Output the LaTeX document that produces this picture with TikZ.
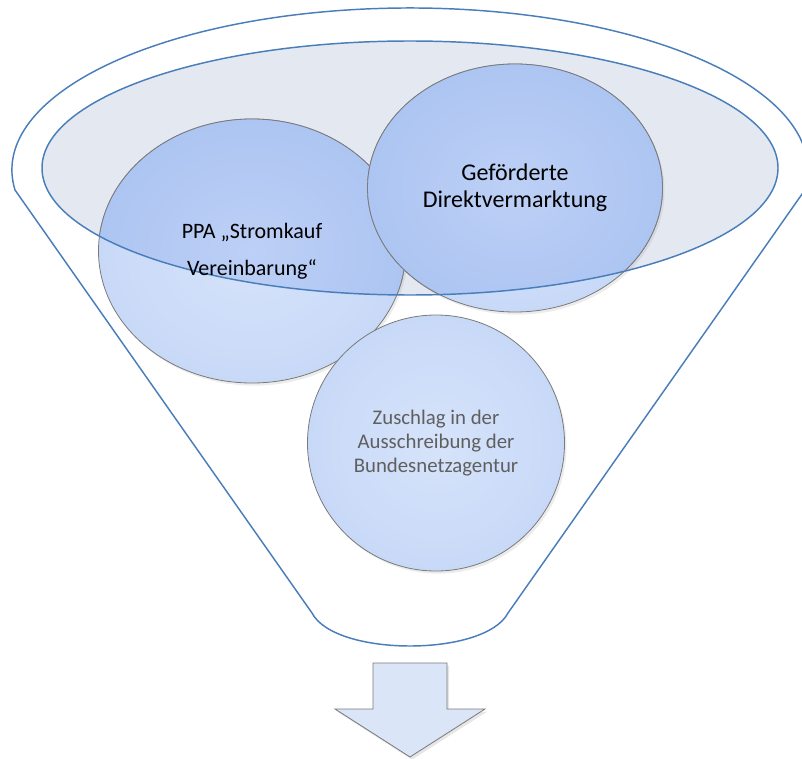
\documentclass[tikz,border=0pt]{standalone}
\usepackage{fontspec}
\setmainfont{Carlito}
\usetikzlibrary{shapes.geometric,shadows}
\definecolor{funnelblue}{HTML}{4A7EBB}
\definecolor{rimfill}{HTML}{E4E8F1}
\definecolor{bubout}{HTML}{D6E3FA}
\definecolor{bubedge}{HTML}{C8D9F8}
\definecolor{bubin}{HTML}{BDD0F6}
\definecolor{bubinedge}{HTML}{ADC5F2}
\definecolor{bubline}{HTML}{7A7A7A}
\definecolor{graytext}{HTML}{5F5F5F}
\definecolor{arrowfill}{HTML}{DAE5F8}
\tikzset{
  funnel/.style={draw=funnelblue, line width=1.1pt},
  bub/.style={ellipse, draw=bubline, line width=0.6pt, inner sep=0pt,
    inner color=bubout, outer color=bubedge,
    drop shadow={opacity=0.15, shadow xshift=1.5pt, shadow yshift=-2pt}},
  bubdark/.style={draw=bubline, line width=0.6pt, inner color=bubin, outer color=bubinedge},
  lbl/.style={align=center, inner sep=0pt},
}
\begin{document}
\begin{tikzpicture}[x=0.75pt, y=-0.75pt]
\useasboundingbox (0,0) rectangle (802,759);
% outer funnel
\draw[funnel] (15,190) arc[start angle=172.9, end angle=367.1, x radius=398, y radius=162]
  -- (508,613) .. controls (485,657) and (335,657) .. (312,613) -- cycle;
% rim
\coordinate (E) at (410,168);
\fill[rimfill] (E) ellipse [x radius=368, y radius=127];
% left bubble
\node[bub, minimum width=230.25pt, minimum height=198pt] (L) at (252,251) {};
\begin{scope}
  \clip (E) ellipse [x radius=368, y radius=127];
  \path[bubdark] (L.center) ellipse [x radius=153.5, y radius=132];
\end{scope}
% right bubble
\node[bub, minimum width=221.25pt, minimum height=186pt] (R) at (515,188) {};
\begin{scope}
  \clip (E) ellipse [x radius=368, y radius=127];
  \path[bubdark] (R.center) ellipse [x radius=147.5, y radius=124];
\end{scope}
% bottom bubble
\node[bub, minimum width=192.75pt, minimum height=192pt] (B) at (436,443) {};
% rim outline
\draw[funnel] (E) ellipse [x radius=368, y radius=127];
% texts
\node[lbl, font=\fontsize{16.5}{28}\selectfont] (Lt) at (L.center) {PPA „Stromkauf\\Vereinbarung“};
\node[lbl, font=\fontsize{18}{20.5}\selectfont] (Rt) at (R.center) {Geförderte\\Direktvermarktung};
\node[lbl, text=graytext, font=\fontsize{15.6}{17.8}\selectfont] (Bt) at (B.center) {Zuschlag in der\\Ausschreibung der\\Bundesnetzagentur};
% arrow
\draw[draw=bubline, line width=0.6pt, fill=arrowfill,
  drop shadow={opacity=0.2, shadow xshift=1.5pt, shadow yshift=-2pt}]
  (373,663) -- (447,663) -- (447,709) -- (485,709) -- (410,757) -- (335,709) -- (373,709) -- cycle;
\end{tikzpicture}
\end{document}
